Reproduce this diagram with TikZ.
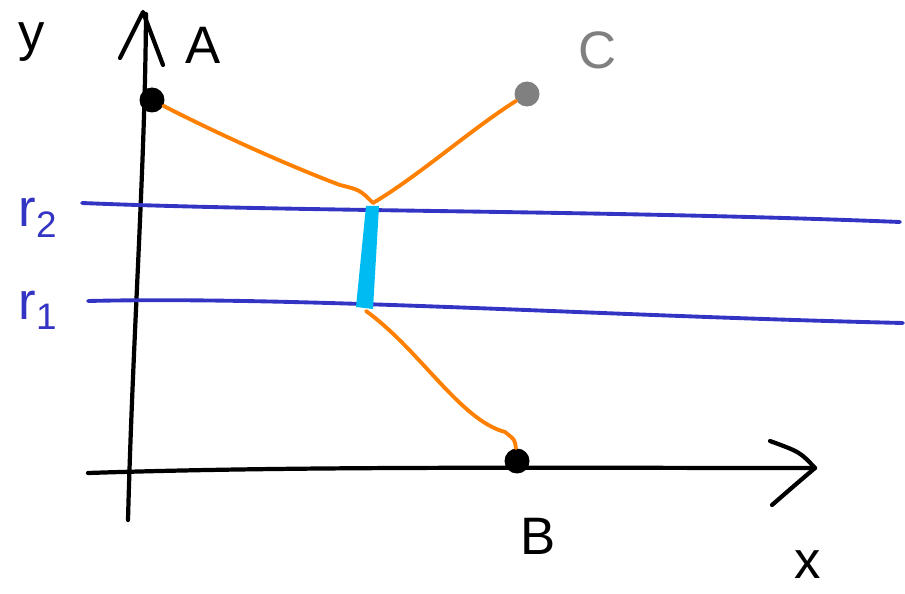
\documentclass[tikz,border=0pt]{standalone}
\usepackage{fontspec}
\setmainfont{Liberation Sans}
\usepackage{tikz}
\usetikzlibrary{calc,arrows.meta}
\definecolor{sk-orange}{HTML}{FF8000}
\definecolor{sk-blue}{HTML}{3434C4}
\definecolor{sk-cyan}{HTML}{00BAF2}
\definecolor{sk-gray}{HTML}{808080}

\begin{document}
\begin{tikzpicture}[x=0.02cm, y=-0.02cm, line cap=round, line join=round,
    pen/.style={line width=2.4pt},
    dot/.style={circle, fill, inner sep=0pt, minimum size=0.5cm},
    hand/.style={font=\fontsize{30}{34}\selectfont}]
    \useasboundingbox (0,0) rectangle (905,594);

    % Axes
    \draw[pen] (128,520) .. controls (133,330) and (145,170) .. (146,14);
    \draw[pen] (120,58) -- (143,12) -- (163,65);
    \draw[pen] (88,473) .. controls (300,466) and (550,468) .. (815,468);
    \draw[pen] (770,441) .. controls (800,452) .. (815,468) .. controls (795,485) .. (772,505);

    \node[hand] (ylab) at (32,42) {y};
    \node[hand] (xlab) at (808,565) {x};

    % Levels r1 and r2
    \draw[sk-blue, line width=2.2pt] (82,203) .. controls (300,212) and (600,210) .. (900,222);
    \draw[sk-blue, line width=2.2pt] (88,301) .. controls (300,296) and (600,316) .. (903,323);
    \node[hand, sk-blue] (r2lab) at (38,218) {r\textsubscript{2}};
    \node[hand, sk-blue] (r1lab) at (38,310) {r\textsubscript{1}};

    % Points
    \node[dot, black] (A) at (152,100) {};
    \node[dot, sk-gray] (C) at (527,94) {};
    \node[dot, black] (B) at (517,461) {};
    \node[hand] (Alab) at (203,45) {A};
    \node[hand, sk-gray] (Clab) at (598,50) {C};
    \node[hand] (Blab) at (538,536) {B};

    \coordinate (top) at (373,203);
    \coordinate (bot) at (366,311);

    % Bridge between the levels
    \fill[sk-cyan] (366,206) -- (379,206) -- (373,309) -- (356,307) -- cycle;

    % Paths
    \draw[sk-orange, line width=2.2pt] (A) .. controls (230,140) and (300,170) .. (340,185)
        .. controls (360,190) .. (top);
    \draw[sk-orange, line width=2.2pt] (top) .. controls (420,175) and (470,130) .. (C);
    \draw[sk-orange, line width=2.2pt] (bot) .. controls (420,350) and (460,420) .. (505,432)
        .. controls (515,440) .. (B);
\end{tikzpicture}
\end{document}
